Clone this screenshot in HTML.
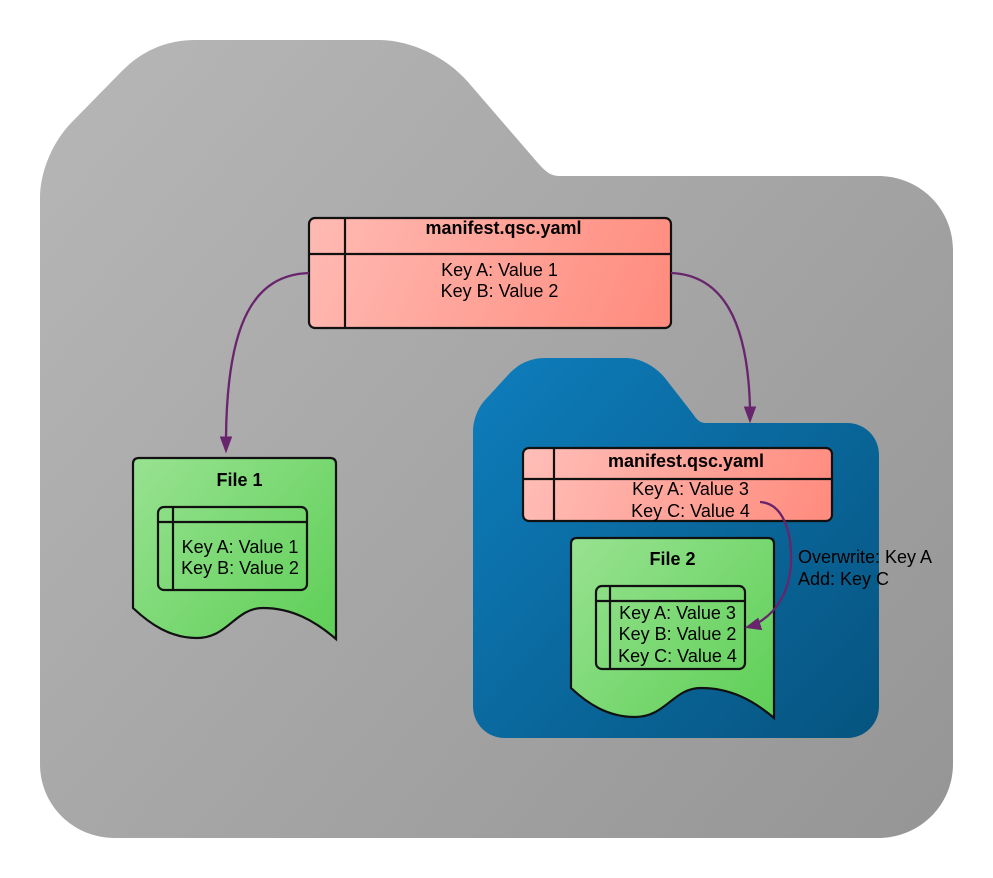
<!DOCTYPE html>
<html>
<head>
<meta charset="utf-8">
<style>
html,body{margin:0;padding:0;background:#fff;width:993px;height:878px;overflow:hidden}
svg{display:block}
text{font-family:"Liberation Sans",sans-serif;font-size:18px;fill:#000}
.b{font-weight:bold;font-size:18px}
.s{stroke:#111;stroke-width:2.2;fill:none}
.a{stroke:#68246c;stroke-width:2.3;fill:none}
.h{fill:#68246c;stroke:#68246c;stroke-width:1}
</style>
</head>
<body>
<svg width="993" height="878" viewBox="0 0 993 878" xmlns="http://www.w3.org/2000/svg">
<defs>
<linearGradient id="g" gradientUnits="userSpaceOnUse" x1="60" y1="60" x2="933" y2="818"><stop offset="0" stop-color="#b6b6b6"/><stop offset="1" stop-color="#969696"/></linearGradient>
<linearGradient id="bl" gradientUnits="userSpaceOnUse" x1="473" y1="358" x2="879" y2="738"><stop offset="0" stop-color="#0e7dbc"/><stop offset="1" stop-color="#06547f"/></linearGradient>
<linearGradient id="r1" gradientUnits="userSpaceOnUse" x1="330" y1="200" x2="650" y2="345"><stop offset="0" stop-color="#ffb9b2"/><stop offset="1" stop-color="#ff8c7e"/></linearGradient>
<linearGradient id="r2" gradientUnits="userSpaceOnUse" x1="540" y1="430" x2="815" y2="540"><stop offset="0" stop-color="#ffbdb7"/><stop offset="1" stop-color="#ff8c7e"/></linearGradient>
<linearGradient id="gr1" gradientUnits="userSpaceOnUse" x1="133" y1="458" x2="336" y2="639"><stop offset="0" stop-color="#98e291"/><stop offset="1" stop-color="#5ecf56"/></linearGradient>
<linearGradient id="gr2" gradientUnits="userSpaceOnUse" x1="571" y1="538" x2="774" y2="719"><stop offset="0" stop-color="#98e291"/><stop offset="1" stop-color="#5ecf56"/></linearGradient>
</defs>

<path fill="url(#g)" d="M40 198 C40 170 54 140 72 122 L120 73 C140 52 165 40 195 40 L378 40 C410 40 445 56 468 82 L537 162 C545 171 550 176 560 176 L878 176 C920 176 953 209 953 250 L953 764 C953 805 920 838 878 838 L115 838 C73 838 40 805 40 764 Z"/>

<path fill="url(#bl)" d="M473 432 C473 420 478 407 486 399 L508 375 C518 364 530 358 545 358 L626 358 C640 358 655 366 665 378 L693 414 C697 420 700 423 706 423 L847 423 C865 423 879 437 879 455 L879 706 C879 724 865 738 847 738 L505 738 C487 738 473 724 473 706 Z"/>

<!-- top manifest -->
<rect x="309" y="218" width="362" height="110" rx="6" class="s" style="fill:url(#r1)"/>
<path class="s" d="M345 218V328M309 254H671"/>
<text class="b" x="503.500" y="234" text-anchor="middle">manifest.qsc.yaml</text>
<text x="499.500" y="276" text-anchor="middle">Key A: Value 1</text>
<text x="499.500" y="297" text-anchor="middle">Key B: Value 2</text>

<!-- File 1 -->
<path style="fill:url(#gr1)" class="s" d="M133 608 L133 464 Q133 458 139 458 L330 458 Q336 458 336 464 L336 639 C315 621 292 608 263 608 C235 608 228 638 197 638 C170 638 150 624 133 608 Z"/>
<text class="b" x="239.500" y="486" text-anchor="middle">File 1</text>
<rect x="158" y="507" width="149" height="83" rx="6" class="s"/>
<path class="s" d="M173 507V590M158 522H307"/>
<text x="240" y="553" text-anchor="middle">Key A: Value 1</text>
<text x="240" y="574" text-anchor="middle">Key B: Value 2</text>

<!-- inner manifest -->
<rect x="523" y="448" width="309" height="73" rx="6" class="s" style="fill:url(#r2)"/>
<path class="s" d="M554 448V521M523 479H832"/>
<text class="b" x="686" y="467" text-anchor="middle">manifest.qsc.yaml</text>
<text x="690.500" y="495" text-anchor="middle">Key A: Value 3</text>
<text x="690.500" y="517" text-anchor="middle">Key C: Value 4</text>

<!-- File 2 -->
<path style="fill:url(#gr2)" class="s" d="M571 688 L571 544 Q571 538 577 538 L768 538 Q774 538 774 544 L774 718 C753 700 730 688 701 688 C673 688 666 717 635 717 C608 717 588 704 571 688 Z"/>
<text class="b" x="672.500" y="565" text-anchor="middle">File 2</text>
<rect x="596" y="586" width="149" height="83" rx="6" class="s"/>
<path class="s" d="M610 586V669M596 601H745"/>
<text x="677.500" y="619" text-anchor="middle">Key A: Value 3</text>
<text x="677.500" y="640" text-anchor="middle">Key B: Value 2</text>
<text x="677.500" y="662" text-anchor="middle">Key C: Value 4</text>

<!-- connectors -->
<path class="a" d="M309 273 C255 275 227 320 226 438"/>
<path class="h" d="M226 452 L220.500 437 L231.500 437 Z"/>
<path class="a" d="M671 273 C722 275 748 320 750 409"/>
<path class="h" d="M750 422 L744.500 407 L755.500 407 Z"/>
<path class="a" d="M760 502 C782 503 792 530 791 562 C790 590 778 612 756 624"/>
<path class="h" d="M746 627.500 L758 618.500 L761.500 629.500 Z"/>

<text x="798" y="563">Overwrite: Key A</text>
<text x="798" y="585">Add: Key C</text>
</svg>
</body>
</html>
